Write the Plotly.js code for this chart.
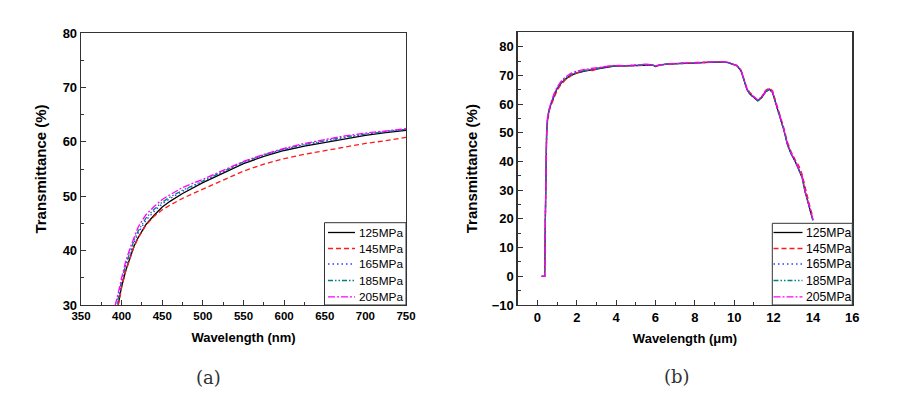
<!DOCTYPE html>
<html>
<head>
<meta charset="utf-8">
<script src="https://cdn.plot.ly/plotly-3.0.1.min.js"></script>
<style>html,body{margin:0;padding:0;background:#fff;}#chart{width:904px;height:394px;}</style>
</head>
<body>
<div id="chart"></div>
<script>
// ---- Data: panel (a) visible range ----
const wlA = [392,395,398,400,405,410,415,420,425,430,440,450,460,475,500,525,550,575,600,625,650,675,700,725,750];
const tA125 = [27.0,29.4,31.8,33.4,36.3,38.6,40.7,42.3,43.6,44.8,46.5,48.0,49.1,50.5,52.5,54.3,56.0,57.3,58.4,59.2,59.9,60.6,61.2,61.7,62.1];
const tA145 = [27.0,29.4,31.7,33.2,36.2,38.6,40.6,42.2,43.5,44.7,46.3,47.5,48.4,49.6,51.3,53.0,54.6,55.9,56.9,57.7,58.4,59.1,59.7,60.2,60.8];
const tA165 = [28.0,30.3,32.8,34.3,37.0,39.3,41.4,43.1,44.4,45.6,47.2,48.6,49.6,50.9,52.7,54.5,56.2,57.5,58.6,59.4,60.1,60.8,61.4,61.9,62.3];
const tA185 = [28.3,30.6,33.0,34.6,37.4,39.7,41.8,43.5,44.8,46.0,47.6,48.9,49.9,51.1,52.8,54.6,56.3,57.6,58.7,59.5,60.2,60.9,61.4,61.9,62.3];
const tA205 = [29.9,31.6,33.6,35.0,38.0,40.3,42.4,44.2,45.5,46.6,48.1,49.4,50.3,51.6,53.1,54.7,56.4,57.7,58.8,59.7,60.4,61.1,61.6,62.0,62.4];

// ---- Data: panel (b) IR range (µm) ----
const wlB = [0.22,0.37,0.42,0.47,0.52,0.6,0.7,0.85,1.0,1.2,1.4,1.7,2.0,2.4,2.8,3.3,3.9,4.5,5.0,5.5,5.85,6.0,6.2,6.6,7.2,7.8,8.4,9.0,9.4,9.7,10.0,10.15,10.35,10.5,10.65,10.8,11.0,11.2,11.4,11.6,11.8,11.95,12.1,12.3,12.5,12.7,12.9,13.1,13.3,13.45,13.6,13.8,14.0];
const tB125 = [0,0,28,50,55,58,60.2,63.0,65.3,67.2,68.6,70.0,70.8,71.5,72.0,72.6,73.2,73.3,73.4,73.7,73.6,73.1,73.6,73.9,74.1,74.3,74.5,74.7,74.7,74.4,73.5,73.3,71.5,68.5,65.0,63.5,62.3,61.1,62.3,64.3,65.1,64.0,60.5,56.0,51.5,46.0,42.5,40.0,37.0,34.5,29.5,24.5,19.5];
const tB145 = [0,0,27,49,54,57.5,59.6,62.4,64.7,66.8,68.3,69.8,70.9,71.8,71.7,72.8,73.4,73.2,73.5,73.8,73.5,73.2,73.5,74.0,74.2,74.4,74.6,74.8,74.8,74.5,73.7,73.4,71.8,68.8,65.4,64.0,62.6,61.3,62.6,64.8,65.6,64.6,61.2,56.8,52.2,46.9,43.3,40.6,38.2,35.6,30.8,25.6,20.5];
const tB165 = [0,0,28,50,55,58,60.3,63.1,65.4,67.4,68.8,70.2,71.0,71.6,72.1,72.7,73.3,73.3,73.5,73.7,73.6,73.1,73.6,73.9,74.1,74.3,74.5,74.7,74.7,74.4,73.5,73.3,71.5,68.4,65.0,63.4,62.2,61.1,62.3,64.3,65.1,64.0,60.4,55.9,51.4,45.9,42.4,39.9,36.9,34.3,29.4,24.3,19.3];
const tB185 = [0,0,28,50,55,58.1,60.4,63.2,65.5,67.5,68.9,70.3,71.1,71.7,72.2,72.8,73.3,73.4,73.5,73.8,73.6,73.2,73.6,74.0,74.1,74.3,74.5,74.7,74.7,74.4,73.6,73.3,71.6,68.5,65.1,63.5,62.3,61.2,62.4,64.4,65.2,64.1,60.6,56.1,51.6,46.1,42.6,40.1,37.1,34.6,29.6,24.6,19.6];
const tB205 = [0,0,29,51,56,58.6,60.9,63.7,65.9,67.9,69.3,70.7,71.5,72.1,72.5,73.0,73.5,73.4,73.6,73.9,73.7,73.2,73.7,74.0,74.2,74.4,74.6,74.8,74.8,74.5,73.6,73.4,71.7,68.7,65.3,63.7,62.5,61.4,62.6,64.6,65.4,64.3,60.8,56.3,51.8,46.3,42.8,40.3,37.3,34.8,29.8,24.8,19.8];

const seriesNames = ['125MPa','145MPa','165MPa','185MPa','205MPa'];
const seriesColors = ['#000000','#ff1a1a','#3a3aff','#008080','#ff00ff'];
const seriesDash = ['solid','5px,3px','1.5px,3px','5px,2px,1.5px,2px,1.5px,2px','7px,2px,2px,2px'];

const ysA = [tA125,tA145,tA165,tA185,tA205];
const ysB = [tB125,tB145,tB165,tB185,tB205];

const traces = [];
ysA.forEach((y,i)=>traces.push({
  x: wlA, y: y, name: seriesNames[i], type:'scatter', mode:'lines',
  line:{color:seriesColors[i], dash:seriesDash[i], width:1.3},
  xaxis:'x', yaxis:'y', showlegend:false
}));
ysB.forEach((y,i)=>traces.push({
  x: wlB, y: y, name: seriesNames[i], type:'scatter', mode:'lines',
  line:{color:seriesColors[i], dash:seriesDash[i], width:1.3},
  xaxis:'x2', yaxis:'y2', showlegend:false
}));

const FAM = 'Liberation Sans, Arial, sans-serif';
const tf = (s)=>({family:FAM, size:s, color:'#000', weight:'bold'});
const axisBase = {
  showline:true, mirror:true, linecolor:'#333', linewidth:1.3,
  ticks:'inside', ticklen:5, tickwidth:1, tickcolor:'#333',
  showgrid:false, zeroline:false, fixedrange:true
};

// ---- Legend boxes (pixel geometry converted to paper coords) ----
const W = 904, H = 394;
const px = (x)=>x/W, py = (y)=>1-y/H;
const shapes = [], annotations = [];
function addLegend(boxL, boxR, boxT, boxB, lineX0, lineX1, textX, rowsY, fsize){
  shapes.push({type:'rect', xref:'paper', yref:'paper', x0:px(boxL), x1:px(boxR), y0:py(boxB), y1:py(boxT),
    fillcolor:'#fff', line:{color:'#333', width:1}});
  seriesNames.forEach((n,i)=>{
    shapes.push({type:'line', xref:'paper', yref:'paper', x0:px(lineX0), x1:px(lineX1), y0:py(rowsY[i]), y1:py(rowsY[i]),
      line:{color:seriesColors[i], dash:seriesDash[i], width:1.3}});
    annotations.push({text:n, xref:'paper', yref:'paper', x:px(textX), y:py(rowsY[i]), xanchor:'left', yanchor:'middle',
      showarrow:false, font:{family:FAM, size:fsize, color:'#000'}});
  });
}
addLegend(324.5, 406, 222.7, 305, 328, 355, 357, [232.5,248.5,264,280.5,296.8], 11.8);
addLegend(772.3, 852.3, 223.3, 305, 773.5, 802.5, 804, [232.5,248.5,264,280.5,296.8], 12.2);

annotations.push(
  {text:'(a)', x:px(208), y:py(377), xref:'paper', yref:'paper', xanchor:'center', yanchor:'middle', showarrow:false,
   font:{family:'DejaVu Serif, Liberation Serif, serif', size:18, color:'#333'}},
  {text:'(b)', x:px(677), y:py(376), xref:'paper', yref:'paper', xanchor:'center', yanchor:'middle', showarrow:false,
   font:{family:'DejaVu Serif, Liberation Serif, serif', size:18, color:'#333'}}
);

const layout = {
  width:W, height:H,
  margin:{l:0,r:0,t:0,b:0},
  paper_bgcolor:'#fff', plot_bgcolor:'#fff',
  showlegend:false,
  xaxis: Object.assign({}, axisBase, {
    domain:[px(81), px(406)], range:[350,750], dtick:50, tick0:350, tickfont:tf(11.5),
    minor:{ticks:'inside', ticklen:3, dtick:25, tickcolor:'#333'},
    title:{text:'Wavelength (nm)', font:tf(13), standoff:11}, anchor:'y'
  }),
  yaxis: Object.assign({}, axisBase, {
    domain:[py(305), py(33)], range:[30,80], dtick:10, tickfont:tf(13),
    minor:{ticks:'inside', ticklen:3, dtick:5, tickcolor:'#333'},
    title:{text:'Transmittance (%)', font:tf(15), standoff:12}, anchor:'x'
  }),
  xaxis2: Object.assign({}, axisBase, {
    domain:[px(517.7), px(852.3)], range:[-1,16], dtick:2, tick0:0, tickfont:tf(13),
    minor:{ticks:'inside', ticklen:3, dtick:1, tickcolor:'#333'},
    title:{text:'Wavelength (\u03bcm)', font:tf(13), standoff:10}, anchor:'y2'
  }),
  yaxis2: Object.assign({}, axisBase, {
    domain:[py(305), py(32.3)], range:[-10,85], dtick:10, tick0:0, tickfont:tf(13),
    minor:{ticks:'inside', ticklen:3, dtick:5, tickcolor:'#333'},
    title:{text:'Transmittance (%)', font:tf(15), standoff:10}, anchor:'x2'
  }),
  shapes: shapes,
  annotations: annotations
};

Plotly.newPlot('chart', traces, layout, {displayModeBar:false, staticPlot:true});
</script>
</body>
</html>
